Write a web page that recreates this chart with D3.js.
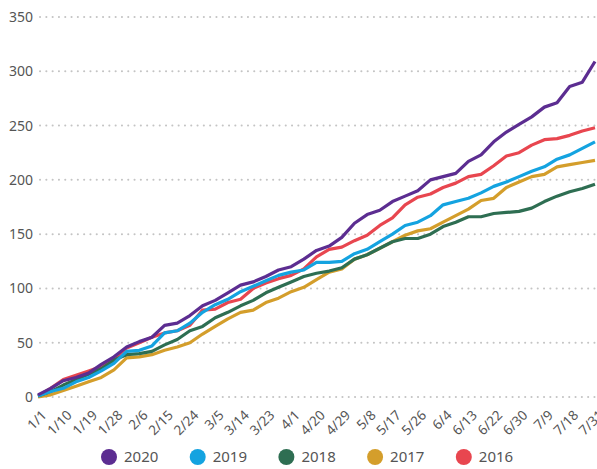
<!DOCTYPE html>
<html>
<head>
<meta charset="utf-8">
<script src="https://cdn.jsdelivr.net/npm/d3@7"></script>
<style>
  body { margin: 0; background: #fff; }
  text { font-family: "Noto Sans", "Open Sans", sans-serif; fill: #555; }
</style>
</head>
<body>
<div id="chart"></div>
<script>
// tick labels along the x axis (one every 9 days of data)
var tickLabels = ["1/1", "1/10", "1/19", "1/28", "2/6", "2/15", "2/24", "3/5", "3/14", "3/23", "4/1",
  "4/20", "4/29", "5/8", "5/17", "5/26", "6/4", "6/13", "6/22", "6/30", "7/9", "7/18", "7/31"];

var years = ["2020", "2019", "2018", "2017", "2016"];
var colors = ["#5c2d91", "#14a3e0", "#2e6e52", "#d49e2b", "#e8464f"];

var y2020 = [2, 8, 15, 18, 22, 30, 37, 46, 51, 55, 66, 68, 75, 84, 89, 96, 103, 106, 111, 117, 120, 127, 135,
  139, 147, 160, 168, 172, 180, 185, 190, 200, 203, 206, 217, 223, 235, 244, 251, 258, 267, 271, 286, 290, 309];
var y2019 = [1, 5, 8, 14, 18, 24, 31, 42, 43, 47, 59, 61, 68, 78, 85, 90, 97, 102, 107, 112, 115, 117, 124,
  124, 125, 132, 136, 143, 150, 158, 161, 167, 177, 180, 183, 188, 194, 198, 203, 208, 212, 219, 223, 229, 235];
var y2018 = [1, 5, 11, 16, 21, 26, 34, 39, 40, 42, 48, 53, 61, 65, 73, 78, 84, 89, 96, 101, 106, 111, 114,
  116, 119, 127, 131, 137, 143, 146, 146, 150, 157, 161, 166, 166, 169, 170, 171, 174, 180, 185, 189, 192, 196];
var y2017 = [0, 2, 6, 10, 14, 18, 25, 36, 37, 39, 43, 46, 50, 58, 65, 72, 78, 80, 87, 91, 97, 101, 108,
  115, 118, 127, 131, 137, 143, 149, 153, 155, 161, 167, 173, 181, 183, 193, 198, 203, 205, 212, 214, 216, 218];
var y2016 = [1, 8, 16, 20, 24, 28, 35, 45, 50, 55, 59, 61, 66, 80, 81, 87, 90, 100, 105, 109, 112, 118, 129,
  136, 138, 144, 149, 158, 165, 177, 184, 187, 193, 197, 203, 205, 213, 222, 225, 232, 237, 238, 241, 245, 248];

var yTicks = [0, 50, 100, 150, 200, 250, 300, 350];

var svgWidth = 597;
var svgHeight = 469;

var margin = { top: 17, right: 1, bottom: 72, left: 38 };
var width = svgWidth - margin.left - margin.right;
var height = 397 - margin.top;

var svg = d3.select("#chart")
  .append("svg")
  .attr("width", svgWidth)
  .attr("height", svgHeight);

var chartGroup = svg.append("g")
  .attr("transform", `translate(${margin.left}, ${margin.top})`);

// x in units of tick intervals, y in counts
var xScale = d3.scaleLinear().domain([0, tickLabels.length - 1]).range([0, width - 1]);
var yScale = d3.scaleLinear().domain([0, 350]).range([height, 0]);

// dotted gridlines
chartGroup.append("g")
  .selectAll("line")
  .data(yTicks)
  .enter()
  .append("line")
  .attr("x1", 2)
  .attr("x2", width)
  .attr("y1", (d) => yScale(d))
  .attr("y2", (d) => yScale(d))
  .attr("stroke", "#c4c4c4")
  .attr("stroke-width", 2)
  .attr("stroke-linecap", "round")
  .attr("stroke-dasharray", "0.1,6.2");

// y axis labels
var leftAxis = d3.axisLeft(yScale).tickValues(yTicks).tickSize(0).tickPadding(5);
var yAxis = chartGroup.append("g").call(leftAxis);
yAxis.select(".domain").remove();
yAxis.selectAll("text")
  .style("font-size", "14px")
  .style("fill", "#555");

// x axis labels, rotated
var bottomAxis = d3.axisBottom(xScale)
  .tickValues(d3.range(tickLabels.length))
  .tickFormat((d) => tickLabels[d])
  .tickSize(0);
var xAxis = chartGroup.append("g")
  .attr("transform", `translate(0, ${height})`)
  .call(bottomAxis);
xAxis.select(".domain").remove();
xAxis.selectAll("text")
  .style("font-size", "13.5px")
  .style("fill", "#555")
  .style("text-anchor", "end")
  .attr("dy", null)
  .attr("y", 0)
  .attr("transform", "translate(9, 19) rotate(-45)");

// lines
var series = [y2020, y2019, y2018, y2017, y2016];
var line = d3.line()
  .x((d, i) => xScale(i / 2))
  .y((d) => yScale(d));

chartGroup.append("g")
  .selectAll("path")
  .data(series.slice().reverse())
  .enter()
  .append("path")
  .attr("d", (d) => line(d))
  .attr("fill", "none")
  .attr("stroke", (d, i) => colors[series.length - 1 - i])
  .attr("stroke-width", 3.2)
  .attr("stroke-linejoin", "round");

// legend
var legend = svg.append("g")
  .selectAll("g")
  .data(years)
  .enter()
  .append("g")
  .attr("transform", (d, i) => `translate(${109 + i * 88.7}, 457)`);

legend.append("circle")
  .attr("r", 8)
  .attr("fill", (d, i) => colors[i]);

legend.append("text")
  .attr("x", 15)
  .attr("y", 5)
  .style("font-size", "15px")
  .text((d) => d);
</script>
</body>
</html>
